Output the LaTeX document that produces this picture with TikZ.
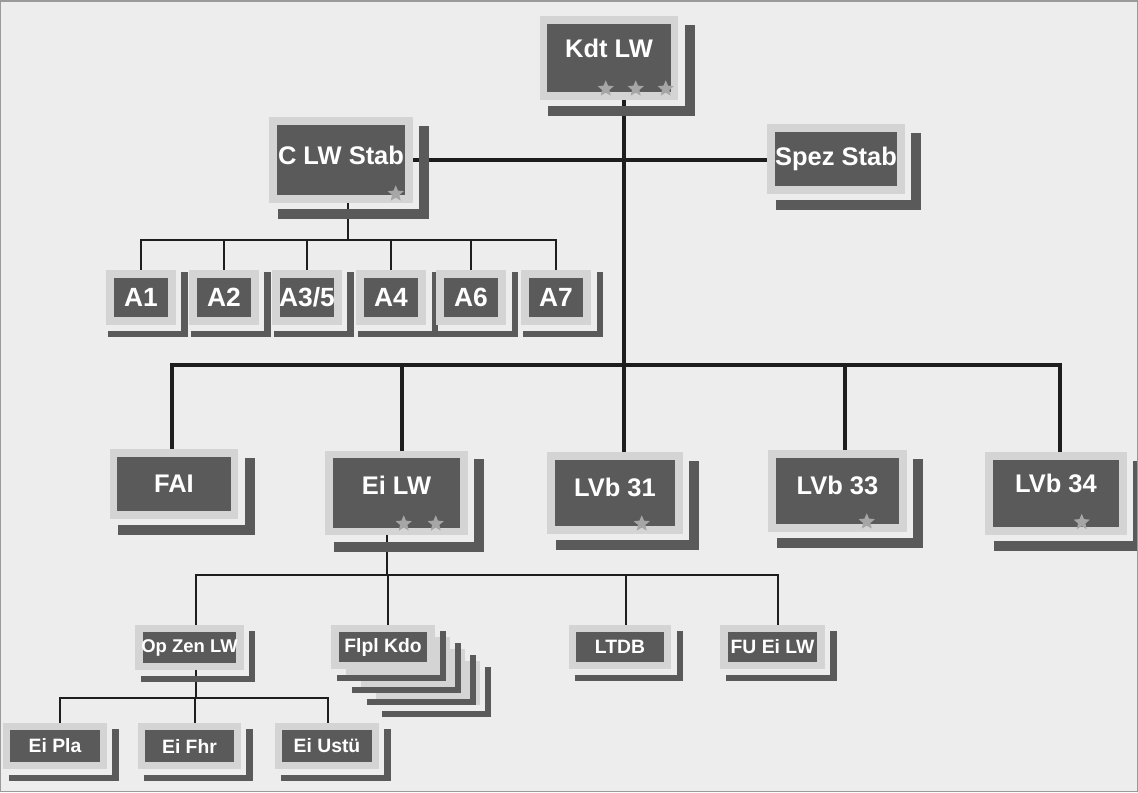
\documentclass[tikz,border=0pt]{standalone}
\usepackage{fontspec}
\setmainfont{Liberation Sans}
\usepackage{tikz}
\usetikzlibrary{shapes.geometric, backgrounds, positioning}
\definecolor{paper}{HTML}{EDEDED}
\definecolor{boxgray}{HTML}{5A5A5A}
\definecolor{framegray}{HTML}{D4D4D4}
\definecolor{stargray}{HTML}{A6A6A6}
\definecolor{linecol}{HTML}{1E1E1E}
\definecolor{edgegray}{HTML}{9A9A9A}

% L-shaped drop shadow: style, node, offset from border, start inset
\newcommand{\unitshadow}[4]{%
  \draw[#1] ([shift={(#4,#3)}]#2.south west) -| ([shift={(#3,#4)}]#2.north east);}

\begin{document}
\begin{tikzpicture}[x=0.02cm, y=-0.02cm,
    unit/.style={draw=framegray, fill=boxgray, line width=0.15cm, text=white, inner sep=0pt},
    bigunit/.style={unit, font=\bfseries\fontsize{14.5pt}{16pt}\selectfont},
    aunit/.style={unit, minimum width=1.24cm, minimum height=0.94cm, font=\bfseries\fontsize{15pt}{17pt}\selectfont},
    smallunit/.style={unit, minimum width=1.94cm, minimum height=0.76cm, font=\bfseries\fontsize{11pt}{13pt}\selectfont},
    backcard/.style={draw=framegray, fill=framegray, line width=0.15cm, minimum width=1.92cm, minimum height=0.74cm, inner sep=0pt},
    bigshadow/.style={draw=boxgray, line width=0.2cm, line join=miter},
    smallshadow/.style={draw=boxgray, line width=0.13cm, line join=miter},
    rank/.style={star, star points=5, star point ratio=2.2, fill=stargray, inner sep=0pt, minimum size=0.34cm},
    mainline/.style={draw=linecol, line width=0.065cm},
    subline/.style={draw=linecol, line width=0.045cm}
]
\begin{scope}[on background layer]
\fill[paper] (0,0) rectangle (1138,792);
\end{scope}
\useasboundingbox (0,0) rectangle (1138,792);

% command and staff
\node[bigunit, minimum width=2.62cm, minimum height=1.52cm, text depth=0.4cm] (kdt) at (609,58) {Kdt LW};
\node[bigunit, minimum width=2.72cm, minimum height=1.56cm, text depth=0.2cm] (clw) at (341,160) {C LW Stab};
\node[bigunit, minimum width=2.60cm, minimum height=1.24cm] (spez) at (836,159) {Spez Stab};

\foreach \n/\x/\t in {a1/141/A1, a2/224/A2, a35/307/{A3/5}, a4/391/A4, a6/471/A6, a7/556/A7}{
  \node[aunit] (\n) at (\x,297.5) {\t};
  \unitshadow{smallshadow}{\n}{9}{2}
}

% second level
\node[bigunit, minimum width=2.42cm, minimum height=1.24cm] (fai) at (174,484) {FAI};
\node[bigunit, minimum width=2.70cm, minimum height=1.54cm, text depth=0.32cm] (eilw) at (396.5,493) {Ei LW};
\node[bigunit, minimum width=2.56cm, minimum height=1.48cm, text depth=0.24cm] (lvb31) at (615,493) {LVb 31};
\node[bigunit, minimum width=2.62cm, minimum height=1.48cm, text depth=0.24cm] (lvb33) at (837.5,491) {LVb 33};
\node[bigunit, minimum width=2.68cm, minimum height=1.50cm, text depth=0.42cm] (lvb34) at (1056,493.5) {LVb 34};

\foreach \n in {kdt, clw, spez, fai, eilw, lvb31, lvb33, lvb34}{
  \unitshadow{bigshadow}{\n}{11.5}{8.5}
}

% rank stars
\node[rank] (k1) at ([shift={(-72.5,-11)}]kdt.south east) {};
\node[rank] (k2) at ([shift={(-42.5,-11)}]kdt.south east) {};
\node[rank] (k3) at ([shift={(-12.5,-11)}]kdt.south east) {};
\node[rank] (c1) at ([shift={(-17,-9)}]clw.south east) {};
\node[rank] (e1) at ([shift={(-64,-11.5)}]eilw.south east) {};
\node[rank] (e2) at ([shift={(-32,-11.5)}]eilw.south east) {};
\node[rank] (l1) at ([shift={(-41,-10)}]lvb31.south east) {};
\node[rank] (l3) at ([shift={(-40,-10)}]lvb33.south east) {};
\node[rank] (l4) at ([shift={(-45,-12.5)}]lvb34.south east) {};

% Ei LW units
\node[smallunit, minimum width=2.02cm, font=\bfseries\fontsize{10.5pt}{12pt}\selectfont] (opzen) at (189.5,647.5) {Op Zen LW};
\foreach \k in {3,2,1}{
  \node[backcard] (flplback\k) at ({383+15*\k},{647+12*\k}) {};
  \unitshadow{smallshadow}{flplback\k}{8.5}{6}
}
\node[smallunit, minimum width=1.92cm, minimum height=0.74cm] (flpl) at (383,647) {Flpl Kdo};
\node[smallunit, minimum width=1.90cm, minimum height=0.74cm] (ltdb) at (620,647) {LTDB};
\node[smallunit, minimum height=0.74cm] (fuei) at (772.5,647) {FU Ei LW};

\node[smallunit, minimum height=0.78cm] (eipla) at (55,746) {Ei Pla};
\node[smallunit, minimum width=1.92cm, minimum height=0.78cm] (eifhr) at (189.5,746) {Ei Fhr};
\node[smallunit, minimum height=0.78cm] (eiustu) at (327,746) {Ei Ustü};

\foreach \n in {opzen, flpl, ltdb, fuei, eipla, eifhr, eiustu}{
  \unitshadow{smallshadow}{\n}{8.5}{6}
}

% connectors
\begin{scope}[on background layer]
\coordinate (hub) at (624,365);
\draw[mainline] (hub |- kdt.south) -- (hub |- lvb31.north);
\draw[mainline] (clw.east) -- (clw.east -| spez.west);
\draw[mainline] ([shift={(-2,0)}]fai.north) |- (hub);
\foreach \n/\dx in {eilw/5.5, lvb33/7.5, lvb34/4}
  \draw[mainline] ([shift={(\dx,0)}]\n.north) |- (hub);

\coordinate (abus) at (348,240);
\draw[subline] (abus |- clw.south) -- (abus);
\foreach \n in {a1, a2, a35, a4, a6, a7}
  \draw[subline] (\n.north) |- (abus);

\coordinate (ebus) at (387,575);
\draw[subline] (ebus |- eilw.south) -- (ebus);
\foreach \n/\dx in {opzen/6.5, flpl/5, ltdb/6, fuei/5.5}
  \draw[subline] ([shift={(\dx,0)}]\n.north) |- (ebus);

\coordinate (obus) at (196,698);
\draw[subline] (obus |- opzen.south) -- (obus);
\foreach \n/\dx in {eipla/5, eifhr/5.5, eiustu/1}
  \draw[subline] ([shift={(\dx,0)}]\n.north) |- (obus);
\end{scope}

\draw[edgegray, line width=0.03cm] (0.75,0.75) rectangle (1137.25,791.25);
\end{tikzpicture}
\end{document}
